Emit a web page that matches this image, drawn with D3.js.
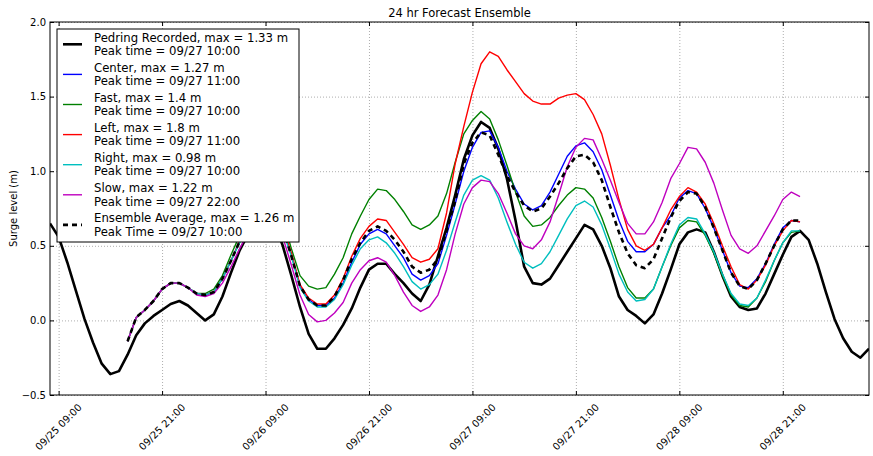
<!DOCTYPE html>
<meta charset="utf-8">
<style>
  body { margin: 0; background: #fff; }
  svg text { font-family: "DejaVu Sans", sans-serif; fill: #000; }
</style>
<script src="https://d3js.org/d3.v7.min.js"></script>
<div id="chart"></div>
<script>

// ---- data ----
var recordedStart = "09/25 08:00";   // hourly from here
var memberStart = "09/25 17:00";     // hourly from here

var recorded = [0.65, 0.56, 0.39, 0.20, 0.01, -0.15, -0.29, -0.36, -0.34, -0.23,
  -0.10, -0.02, 0.03, 0.07, 0.11, 0.13, 0.10, 0.05, 0.00, 0.04,
  0.16, 0.32, 0.47, 0.58, 0.66, 0.70, 0.66, 0.50, 0.30, 0.09,
  -0.09, -0.19, -0.19, -0.12, -0.03, 0.08, 0.22, 0.34, 0.38, 0.38,
  0.31, 0.25, 0.18, 0.13, 0.24, 0.43, 0.62, 0.84, 1.08, 1.24,
  1.33, 1.29, 1.15, 0.95, 0.67, 0.36, 0.25, 0.24, 0.28, 0.37,
  0.46, 0.55, 0.64, 0.61, 0.50, 0.35, 0.16, 0.07, 0.03, -0.02,
  0.04, 0.18, 0.34, 0.51, 0.59, 0.61, 0.59, 0.46, 0.30, 0.16,
  0.09, 0.07, 0.08, 0.18, 0.31, 0.44, 0.56, 0.60, 0.54, 0.38,
  0.19, 0.01, -0.12, -0.21, -0.25, -0.19];

var center = [-0.14, 0.02, 0.07, 0.13, 0.21, 0.25, 0.25, 0.22, 0.18, 0.17,
  0.19, 0.28, 0.40, 0.53, 0.64, 0.73, 0.76, 0.72, 0.62, 0.44,
  0.23, 0.14, 0.10, 0.10, 0.15, 0.25, 0.39, 0.51, 0.58, 0.61,
  0.58, 0.50, 0.42, 0.31, 0.27, 0.30, 0.38, 0.57, 0.78, 1.00,
  1.16, 1.26, 1.27, 1.16, 1.00, 0.88, 0.78, 0.74, 0.77, 0.86,
  0.98, 1.10, 1.17, 1.19, 1.13, 1.01, 0.84, 0.67, 0.53, 0.46,
  0.46, 0.51, 0.62, 0.70, 0.82, 0.87, 0.85, 0.75, 0.62, 0.47,
  0.32, 0.23, 0.22, 0.28, 0.38, 0.51, 0.62, 0.67, 0.66];

var fast = [-0.14, 0.02, 0.07, 0.13, 0.21, 0.25, 0.25, 0.22, 0.18, 0.18,
  0.21, 0.30, 0.44, 0.57, 0.70, 0.80, 0.84, 0.80, 0.68, 0.48,
  0.30, 0.23, 0.21, 0.22, 0.31, 0.42, 0.58, 0.70, 0.81, 0.88,
  0.87, 0.81, 0.73, 0.64, 0.61, 0.64, 0.70, 0.85, 1.06, 1.25,
  1.34, 1.40, 1.35, 1.21, 1.04, 0.86, 0.70, 0.63, 0.64, 0.69,
  0.77, 0.84, 0.89, 0.88, 0.82, 0.69, 0.53, 0.36, 0.22, 0.15,
  0.15, 0.21, 0.36, 0.50, 0.62, 0.67, 0.66, 0.57, 0.45, 0.30,
  0.17, 0.10, 0.09, 0.15, 0.26, 0.40, 0.52, 0.59, 0.60];

var left = [-0.14, 0.02, 0.07, 0.13, 0.21, 0.25, 0.25, 0.22, 0.18, 0.17,
  0.19, 0.28, 0.40, 0.53, 0.65, 0.74, 0.78, 0.74, 0.63, 0.45,
  0.24, 0.15, 0.11, 0.11, 0.17, 0.28, 0.43, 0.55, 0.63, 0.68,
  0.67, 0.59, 0.51, 0.42, 0.39, 0.41, 0.48, 0.72, 1.05, 1.30,
  1.53, 1.72, 1.80, 1.77, 1.68, 1.60, 1.52, 1.47, 1.45, 1.45,
  1.49, 1.51, 1.52, 1.48, 1.38, 1.25, 1.04, 0.81, 0.61, 0.50,
  0.47, 0.51, 0.62, 0.74, 0.83, 0.89, 0.86, 0.78, 0.65, 0.50,
  0.36, 0.24, 0.21, 0.27, 0.37, 0.50, 0.60, 0.67, 0.66];

var right = [-0.14, 0.02, 0.07, 0.13, 0.21, 0.25, 0.25, 0.22, 0.18, 0.17,
  0.19, 0.28, 0.40, 0.52, 0.62, 0.70, 0.73, 0.70, 0.60, 0.43,
  0.22, 0.13, 0.09, 0.09, 0.14, 0.24, 0.37, 0.48, 0.54, 0.56,
  0.52, 0.45, 0.36, 0.26, 0.21, 0.24, 0.31, 0.47, 0.66, 0.84,
  0.94, 0.97, 0.94, 0.82, 0.66, 0.51, 0.39, 0.35, 0.38, 0.46,
  0.57, 0.68, 0.77, 0.80, 0.76, 0.64, 0.48, 0.31, 0.19, 0.13,
  0.14, 0.21, 0.36, 0.51, 0.64, 0.69, 0.68, 0.58, 0.46, 0.31,
  0.18, 0.11, 0.10, 0.15, 0.27, 0.40, 0.52, 0.60, 0.60];

var slow = [-0.14, 0.02, 0.07, 0.13, 0.21, 0.25, 0.25, 0.22, 0.17, 0.16,
  0.18, 0.25, 0.36, 0.48, 0.59, 0.67, 0.71, 0.67, 0.56, 0.37,
  0.17, 0.04, -0.01, 0.00, 0.05, 0.12, 0.25, 0.34, 0.40, 0.42,
  0.39, 0.30, 0.19, 0.10, 0.06, 0.09, 0.17, 0.34, 0.58, 0.78,
  0.89, 0.94, 0.93, 0.85, 0.72, 0.58, 0.50, 0.48, 0.54, 0.66,
  0.84, 1.03, 1.16, 1.22, 1.21, 1.08, 0.94, 0.79, 0.65, 0.58,
  0.58, 0.66, 0.79, 0.95, 1.05, 1.16, 1.15, 1.06, 0.92, 0.74,
  0.57, 0.48, 0.45, 0.50, 0.60, 0.70, 0.81, 0.86, 0.83];

var ensembleAvg = [-0.14, 0.02, 0.07, 0.13, 0.21, 0.25, 0.25, 0.22, 0.18, 0.17,
  0.19, 0.28, 0.40, 0.53, 0.64, 0.73, 0.76, 0.73, 0.62, 0.43,
  0.23, 0.14, 0.10, 0.10, 0.16, 0.27, 0.41, 0.52, 0.60, 0.63,
  0.60, 0.54, 0.46, 0.36, 0.32, 0.34, 0.41, 0.60, 0.80, 1.05,
  1.19, 1.26, 1.24, 1.11, 0.97, 0.86, 0.77, 0.73, 0.75, 0.83,
  0.92, 1.02, 1.10, 1.11, 1.06, 0.94, 0.76, 0.59, 0.45, 0.37,
  0.35, 0.41, 0.55, 0.69, 0.80, 0.86, 0.85, 0.76, 0.62, 0.47,
  0.32, 0.23, 0.21, 0.27, 0.38, 0.50, 0.61, 0.67, 0.67];

var seriesNames = ["Pedring Recorded, max = 1.33 m", "Center, max = 1.27 m", "Fast, max = 1.4 m",
  "Left, max = 1.8 m", "Right, max = 0.98 m", "Slow, max = 1.22 m", "Ensemble Average, max = 1.26 m"];
var peakLabels = ["Peak time = 09/27 10:00", "Peak time = 09/27 11:00", "Peak time = 09/27 10:00",
  "Peak time = 09/27 11:00", "Peak time = 09/27 10:00", "Peak time = 09/27 22:00", "Peak Time = 09/27 10:00"];

var xTickLabels = ["09/25 09:00", "09/25 21:00", "09/26 09:00", "09/26 21:00",
  "09/27 09:00", "09/27 21:00", "09/28 09:00", "09/28 21:00"];
var yTicks = [-0.5, 0.0, 0.5, 1.0, 1.5, 2.0];
var xRange = ["09/25 08:00", "09/29 07:00"];

// ---- layout ----
var W = 873, H = 456;
var plot = {left: 50, right: 869, top: 22, bottom: 395};

var parse = function(s) { return d3.timeParse("%Y/%m/%d %H:%M")("2011/" + s); };

var svg = d3.select("#chart").append("svg")
  .attr("width", W).attr("height", H);

var x = d3.scaleTime()
  .domain(xRange.map(parse))
  .range([plot.left, plot.right]);

var y = d3.scaleLinear()
  .domain([-0.5, 2.0])
  .range([plot.bottom, plot.top]);

var xTicks = xTickLabels.map(parse);
var fmt = d3.format(".1f");
var yFmt = function(d) { return fmt(d).replace("-", "\u2212"); };

// grid
svg.append("g")
  .attr("transform", "translate(0," + plot.bottom + ")")
  .call(d3.axisBottom(x).tickValues(xTicks).tickSize(-(plot.bottom - plot.top)).tickFormat(""))
  .call(function(g) { g.select(".domain").remove(); })
  .selectAll("line").attr("stroke", "#999").attr("stroke-dasharray", "1,2").attr("stroke-width", 0.8);

svg.append("g")
  .attr("transform", "translate(" + plot.left + ",0)")
  .call(d3.axisLeft(y).tickValues(yTicks).tickSize(-(plot.right - plot.left)).tickFormat(""))
  .call(function(g) { g.select(".domain").remove(); })
  .selectAll("line").attr("stroke", "#999").attr("stroke-dasharray", "1,2").attr("stroke-width", 0.8);

// lines
var line = d3.line()
  .x(function(d) { return x(d.t); })
  .y(function(d) { return y(d.v); });

function toPoints(values, start) {
  var t0 = parse(start);
  return values.map(function(v, i) { return {t: d3.timeHour.offset(t0, i), v: v}; });
}

var series = [
  {values: recorded, start: recordedStart, color: "#000000", width: 2.6, dash: null},
  {values: center, start: memberStart, color: "#0000ff", width: 1.4, dash: null},
  {values: fast, start: memberStart, color: "#008000", width: 1.4, dash: null},
  {values: left, start: memberStart, color: "#ff0000", width: 1.4, dash: null},
  {values: right, start: memberStart, color: "#00bfbf", width: 1.4, dash: null},
  {values: slow, start: memberStart, color: "#bf00bf", width: 1.4, dash: null},
  {values: ensembleAvg, start: memberStart, color: "#000000", width: 2.6, dash: "5,4"}
];

svg.append("defs").append("clipPath").attr("id", "clip")
  .append("rect")
  .attr("x", plot.left).attr("y", plot.top)
  .attr("width", plot.right - plot.left).attr("height", plot.bottom - plot.top);

var lines = svg.append("g").attr("clip-path", "url(#clip)");
series.forEach(function(s) {
  lines.append("path")
    .datum(toPoints(s.values, s.start))
    .attr("d", line)
    .attr("fill", "none")
    .attr("stroke", s.color)
    .attr("stroke-width", s.width)
    .attr("stroke-linejoin", "round")
    .attr("stroke-dasharray", s.dash);
});

// axes (ticks pointing inward on all four sides)
svg.append("g")
  .attr("transform", "translate(0," + plot.bottom + ")")
  .call(d3.axisBottom(x).tickValues(xTicks).tickSize(-4).tickFormat(""));
svg.append("g")
  .attr("transform", "translate(0," + plot.top + ")")
  .call(d3.axisTop(x).tickValues(xTicks).tickSize(-4).tickFormat(""));
svg.append("g")
  .attr("transform", "translate(" + plot.left + ",0)")
  .call(d3.axisLeft(y).tickValues(yTicks).tickSize(-4).tickFormat(""));
svg.append("g")
  .attr("transform", "translate(" + plot.right + ",0)")
  .call(d3.axisRight(y).tickValues(yTicks).tickSize(-4).tickFormat(""));
svg.selectAll(".domain").remove();

svg.append("rect")
  .attr("x", plot.left).attr("y", plot.top)
  .attr("width", plot.right - plot.left).attr("height", plot.bottom - plot.top)
  .attr("fill", "none").attr("stroke", "#000").attr("stroke-width", 1);

// tick labels
svg.append("g").selectAll("text")
  .data(yTicks)
  .enter().append("text")
  .attr("x", plot.left - 4)
  .attr("y", function(d) { return y(d); })
  .attr("dy", "0.35em")
  .attr("text-anchor", "end")
  .style("font-size", "10px")
  .text(yFmt);

svg.append("g").selectAll("text")
  .data(xTicks)
  .enter().append("text")
  .attr("transform", function(d) { return "translate(" + x(d) + "," + (plot.bottom + 32) + ") rotate(-45)"; })
  .attr("text-anchor", "middle")
  .attr("dy", "0.35em")
  .style("font-size", "10px")
  .text(function(d, i) { return xTickLabels[i]; });

// title and y label
svg.append("text")
  .attr("x", (plot.left + plot.right) / 2)
  .attr("y", 17)
  .attr("text-anchor", "middle")
  .style("font-size", "11.5px")
  .text("24 hr Forecast Ensemble");

svg.append("text")
  .attr("transform", "translate(17," + ((plot.top + plot.bottom) / 2) + ") rotate(-90)")
  .attr("text-anchor", "middle")
  .style("font-size", "10px")
  .text("Surge level (m)");

// legend
var legend = svg.append("g");
legend.append("rect")
  .attr("x", 57).attr("y", 29)
  .attr("width", 242).attr("height", 213)
  .attr("fill", "#fff").attr("stroke", "#000").attr("stroke-width", 1);

series.forEach(function(s, i) {
  var cy = 44.3 + i * 30.1;
  legend.append("line")
    .attr("x1", 63).attr("x2", 82)
    .attr("y1", cy).attr("y2", cy)
    .attr("stroke", s.color)
    .attr("stroke-width", s.width)
    .attr("stroke-dasharray", s.dash);
  legend.append("text")
    .attr("x", 94).attr("y", cy - 6.6)
    .attr("dy", "0.35em")
    .style("font-size", "11.7px")
    .text(seriesNames[i]);
  legend.append("text")
    .attr("x", 94).attr("y", cy + 6.7)
    .attr("dy", "0.35em")
    .style("font-size", "11.7px")
    .text(peakLabels[i]);
});

</script>
